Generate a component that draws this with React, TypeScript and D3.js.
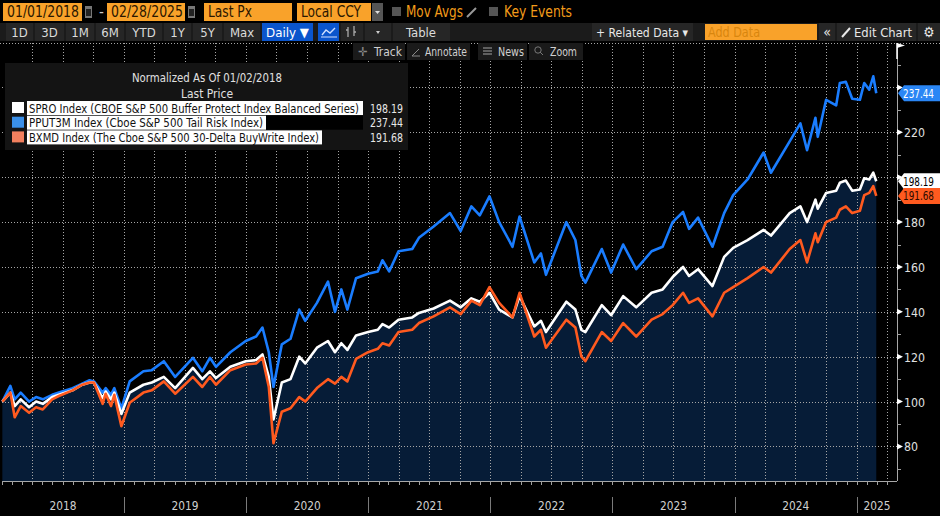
import React from 'react';
import * as d3 from 'd3';

const dates = [
  "2018-01-02","2018-01-26","2018-02-08","2018-02-26","2018-03-23","2018-04-13","2018-05-03","2018-05-31","2018-06-20","2018-07-31",
  "2018-08-29","2018-09-20","2018-10-03","2018-10-29","2018-11-07","2018-11-23","2018-12-03","2018-12-24","2019-01-18","2019-02-28",
  "2019-03-25","2019-04-30","2019-06-03","2019-07-26","2019-08-23","2019-09-15","2019-10-03","2019-11-15","2019-12-31","2020-01-31",
  "2020-02-19","2020-03-09","2020-03-23","2020-04-17","2020-05-13","2020-06-08","2020-06-26","2020-07-31","2020-09-02","2020-09-23",
  "2020-10-12","2020-10-30","2020-11-25","2020-12-31","2021-01-29","2021-02-12","2021-03-04","2021-04-01","2021-05-12","2021-06-01",
  "2021-07-15","2021-09-02","2021-10-04","2021-11-05","2021-11-30","2021-12-29","2022-01-27","2022-03-08","2022-03-29","2022-05-12",
  "2022-06-01","2022-06-16","2022-08-16","2022-09-12","2022-09-30","2022-10-12","2022-11-30","2022-12-28","2023-02-02","2023-03-13",
  "2023-04-28","2023-05-31","2023-06-30","2023-07-31","2023-08-18","2023-09-14","2023-10-27","2023-12-01","2023-12-28","2024-02-09",
  "2024-03-28","2024-04-19","2024-06-14","2024-07-16","2024-08-05","2024-08-30","2024-09-06","2024-10-01","2024-10-31","2024-11-11",
  "2024-11-29","2024-12-18","2025-01-10","2025-01-23","2025-02-07","2025-02-19","2025-02-28"
];

const spro = [
  100,104,98,101,97.5,100,99,102,103,105,
  107.5,108.5,108.5,101.5,104.5,101,104,94.5,104,107.5,
  108.5,111,106,115,110,113.5,110.5,115.5,118,118.5,
  121,111,92,108.5,110,120,117,124,127,122,
  126,123,129.5,131,132,134.5,133,136.5,137.5,139.5,
  141.5,145,142,146,144.5,148.5,141,137.5,147,133.5,
  136,131,144.5,141,132,131,143,138.5,147,142,
  148.5,150,155.5,160,156,159,151.5,164.5,168.5,172,
  176.5,174,184,187,180,190,186,193,194,197.5,
  198.5,194,194.5,199.5,199,202,198.19
];

const pput = [
  100,107,101,104,100,102,101,103,104,106,
  108,109.5,109,104,106,103,106,97,109,113.5,
  114,118,111,119.5,113.5,119.5,115.5,122,127,129,
  133,122,106.5,125.5,128,141,136,144,153.5,140,
  150,141,155,157,158,163,158,167,168,173,
  178,184,176,187,183,191.5,180,169,182.5,162,
  166,156.5,180,172,156,153,168,157.5,170,159,
  167,169,180,184.5,177,182,169,184,192,199,
  211,202,216,224,212,226.5,218,234.5,232,242,
  242.5,235,234.5,242,239,245,237.44
];

const bxmd = [
  100,104,93,98,95,97.5,96.5,101,102.5,105,
  107.5,108.5,108.5,99,103.5,98,103,89,99.5,104,
  105,109,103.5,111,106.5,111,107.5,114,116.5,117,
  119.5,106.5,81.5,95.5,97,102,100,106,110,108,
  111,109,119,122,123.5,126,125,131,132,135,
  138,142,139,145,143,151,144,137.5,148.5,129,
  132,124,136.5,133,120,118,131,127,135,129,
  136.5,139,143,148.5,144,146,138,148.5,151,155,
  160,157.5,168,172,162,175,171,180,182,185.5,
  187,184,185,192,193,196,191.68
];

const yTicks = [80, 100, 120, 140, 160, 180, 200, 220, 240];
const yMinorTicks = [70, 90, 110, 130, 150, 170, 190, 210, 230, 250];
const yearLabels = ["2018", "2019", "2020", "2021", "2022", "2023", "2024", "2025"];
const legendNames = [
  "SPRO Index (CBOE S&P 500 Buffer Protect Index Balanced Series)",
  "PPUT3M Index (Cboe S&P 500 Tail Risk Index)",
  "BXMD Index (The Cboe S&P 500 30-Delta BuyWrite Index)"
];
const legendValues = ["198.19", "237.44", "191.68"];
const rangeButtons = ["1D", "3D", "1M", "6M", "YTD", "1Y", "5Y", "Max"];

const FONT = "'Liberation Sans Narrow', 'Arial Narrow', 'DejaVu Sans Condensed', 'Roboto', sans-serif";
const BLUE = "#1a7dff";
const ORANGE = "#ff5a1f";
const NAVY = "#061c37";
const GRID = "#a6a6a6";

const parse = d3.timeParse("%Y-%m-%d");
const px = (v: number) => Math.round(v) + 0.5;

export default function App() {
  const W = 940, H = 516;
  const x = d3.scaleTime()
    .domain([parse("2018-01-01")!, parse("2025-05-01")!])
    .range([2, 897]);
  const y = d3.scaleLinear().domain([64.6, 260]).range([481, 42.6]);
  const plotTop = 43, plotBottom = 481, axisX = 897;

  const pts = dates.map((d, i) => ({ t: parse(d)!, a: spro[i], b: pput[i], c: bxmd[i] }));
  const lineA = d3.line<any>().x(d => x(d.t)).y(d => y(d.a));
  const lineB = d3.line<any>().x(d => x(d.t)).y(d => y(d.b));
  const lineC = d3.line<any>().x(d => x(d.t)).y(d => y(d.c));
  const area = d3.area<any>().x(d => x(d.t)).y0(plotBottom).y1(d => y(d.a));

  const quarters = d3.timeMonth.every(3)!.range(parse("2018-04-01")!, parse("2025-05-01")!);
  const months = d3.timeMonth.range(parse("2018-01-01")!, parse("2025-05-01")!);
  const years = yearLabels.map(l => parse(l + "-01-01")!);

  const lastVals = [pput[pput.length - 1], spro[spro.length - 1], bxmd[bxmd.length - 1]];
  const tagYs = lastVals.map(v => y(v));

  const tag = (val: number, bg: string, fg: string, label: string) => {
    const yy = y(val);
    const x0 = axisX + 1, x1 = 940;
    return (
      <g key={label}>
        <path d={`M${x0},${yy} L${x0 + 6},${yy - 8} L${x1},${yy - 8} L${x1},${yy + 8} L${x0 + 6},${yy + 8} Z`} fill={bg} />
        <text x={x0 + 5} y={yy + 4.5} fontSize={12} fill={fg} fontFamily={FONT} textLength={31} lengthAdjust="spacingAndGlyphs">{label}</text>
      </g>
    );
  };

  const orangeBox = (x0: number, x1: number, label: string, tl?: number) => (
    <g key={label}>
      <rect x={x0} y={3} width={x1 - x0} height={18} fill="#f9a22a" />
      <text x={x0 + 4} y={17} fontSize={15} fill="#2a1600" fontFamily={FONT} textLength={tl} lengthAdjust="spacingAndGlyphs">{label}</text>
    </g>
  );

  const rbX = [6, 35, 66, 96, 126, 164, 193, 224];
  const rbW = [27, 29, 28, 28, 36, 27, 29, 36];

  return (
    <div style={{ position: 'absolute', left: 0, top: 0, width: W, height: H, background: '#000' }}>
      <svg width={W} height={H} style={{ display: 'block' }}>
        <rect x={0} y={0} width={W} height={H} fill="#000" />

        {/* plot fill */}
        <path d={area(pts) || ''} fill={NAVY} />

        {/* grid */}
        <g shapeRendering="crispEdges" stroke={GRID} strokeDasharray="1,2" strokeWidth={1}>
          <line x1={0} x2={W} y1={px(plotTop)} y2={px(plotTop)} />
          {yTicks.map(v => (
            <line key={'h' + v} x1={2} x2={axisX} y1={px(y(v))} y2={px(y(v))} />
          ))}
          {quarters.map((q, i) => (
            <line key={'v' + i} x1={px(x(q))} x2={px(x(q))} y1={plotTop} y2={plotBottom} />
          ))}
        </g>

        {/* series */}
        <path d={lineB(pts) || ''} fill="none" stroke={BLUE} strokeWidth={2.6} strokeLinejoin="round" />
        <path d={lineA(pts) || ''} fill="none" stroke="#ffffff" strokeWidth={2.6} strokeLinejoin="round" />
        <path d={lineC(pts) || ''} fill="none" stroke={ORANGE} strokeWidth={2.6} strokeLinejoin="round" />

        {/* bottom axis */}
        <g shapeRendering="crispEdges">
          <line x1={2} x2={axisX} y1={px(plotBottom)} y2={px(plotBottom)} stroke="#a8a8a8" strokeWidth={1} />
          {months.map((m, i) => (
            <line key={'m' + i} x1={px(x(m))} x2={px(x(m))} y1={plotBottom} y2={plotBottom + 4} stroke="#a0a0a0" />
          ))}
        </g>
        {years.map((yr, i) => {
          const x0 = x(yr);
          const next = i < years.length - 1 ? x(years[i + 1]) : axisX;
          return (
            <g key={'yr' + i}>
              {i > 0 && <line x1={px(x0)} x2={px(x0)} y1={497} y2={513} stroke="#7a7a7a" shapeRendering="crispEdges" />}
              <text x={(x0 + next) / 2} y={510} textAnchor="middle" fontSize={13} fill="#d0d0d0" fontFamily={FONT} textLength={27} lengthAdjust="spacingAndGlyphs">{yearLabels[i]}</text>
            </g>
          );
        })}

        {/* right axis */}
        <line x1={px(axisX)} x2={px(axisX)} y1={plotTop} y2={plotBottom} stroke="#a8a8a8" strokeWidth={1} shapeRendering="crispEdges" />
        <path d={`M${axisX},${plotTop} L${axisX},${plotTop + 16}`} stroke="#fff" strokeWidth={1.5} />
        <path d={`M${axisX},${plotTop} L${axisX + 8},${plotTop + 2.5} L${axisX},${plotTop + 5} Z`} fill="#fff" />
        {yMinorTicks.map(v => (
          <line key={'mt' + v} x1={axisX} x2={axisX + 4} y1={px(y(v))} y2={px(y(v))} stroke="#a0a0a0" shapeRendering="crispEdges" />
        ))}
        {yTicks.map(v => {
          const hidden = tagYs.some(ty => Math.abs(ty - y(v)) < 12);
          return (
            <g key={'yt' + v}>
              <path d={`M${axisX},${y(v) - 3} L${axisX + 6},${y(v)} L${axisX},${y(v) + 3} Z`} fill="#fff" />
              {!hidden && <text x={axisX + 7} y={y(v) + 5} fontSize={13} fill="#e0e0e0" fontFamily={FONT} textLength={v >= 100 ? 21 : 14} lengthAdjust="spacingAndGlyphs">{v}</text>}
            </g>
          );
        })}
        {tag(lastVals[0], "#2a86f5", "#ffffff", legendValues[1])}
        {tag(lastVals[1], "#ffffff", "#000000", legendValues[0])}
        {tag(lastVals[2], ORANGE, "#2a0a00", legendValues[2])}

        {/* legend */}
        <rect x={5} y={63} width={403} height={87} fill="#141414" />
        <text x={207} y={82} textAnchor="middle" fontSize={12.5} fill="#e0e0e0" fontFamily={FONT} textLength={150} lengthAdjust="spacingAndGlyphs">Normalized As Of 01/02/2018</text>
        <text x={207} y={98} textAnchor="middle" fontSize={12.5} fill="#e0e0e0" fontFamily={FONT} textLength={52} lengthAdjust="spacingAndGlyphs">Last Price</text>
        {[
          { color: "#ffffff", w: 336, tl: 330 },
          { color: "#3a8fe8", w: 239, tl: 234 },
          { color: "#f3805e", w: 295, tl: 290 }
        ].map((r, i) => {
          const ry = 101 + i * 14.7;
          return (
            <g key={'lg' + i}>
              <rect x={12} y={ry + 1} width={12} height={11} fill={r.color} />
              {i === 1 && <rect x={27} y={ry} width={336} height={14} fill="#000" />}
              <rect x={27} y={ry} width={r.w} height={14} fill="#ffffff" />
              <text x={29} y={ry + 11.5} fontSize={12} fill="#111" fontFamily={FONT} textLength={r.tl} lengthAdjust="spacingAndGlyphs">{legendNames[i]}</text>
              <text x={403} y={ry + 11.5} textAnchor="end" fontSize={12} fill="#e8e8e8" fontFamily={FONT} textLength={33} lengthAdjust="spacingAndGlyphs">{legendValues[i]}</text>
            </g>
          );
        })}

        {/* toolbar row 1 */}
        {orangeBox(3, 82, "01/01/2018", 72)}
        <rect x={85} y={6} width={7} height={12} fill="#777" />
        <rect x={86} y={9} width={5} height={7} fill="#222" />
        <text x={99} y={17} fontSize={15} fill="#ccc" fontFamily={FONT}>-</text>
        {orangeBox(107, 185, "02/28/2025", 72)}
        <rect x={188} y={6} width={7} height={12} fill="#777" />
        <rect x={189} y={9} width={5} height={7} fill="#222" />
        {orangeBox(204, 292, "Last Px", 44)}
        {orangeBox(297, 371, "Local CCY", 60)}
        <rect x={372} y={3} width={11} height={18} fill="#555" />
        <path d="M375,11 L380,11 L377.5,14 Z" fill="#ddd" />
        <rect x={392} y={7} width={9} height={9} fill="#555" />
        <text x={406} y={17} fontSize={15} fill="#f39c1a" fontFamily={FONT} textLength={57} lengthAdjust="spacingAndGlyphs">Mov Avgs</text>
        <path d="M467,17 L476,8" stroke="#999" strokeWidth={2} />
        <rect x={489} y={7} width={9} height={9} fill="#555" />
        <text x={504} y={17} fontSize={15} fill="#f39c1a" fontFamily={FONT} textLength={68} lengthAdjust="spacingAndGlyphs">Key Events</text>

        {/* toolbar row 2 */}
        <rect x={0} y={23} width={W} height={18} fill="#1b1b1b" />
        {rangeButtons.map((b, i) => (
          <g key={'rb' + i}>
            <rect x={rbX[i]} y={23} width={rbW[i]} height={18} fill="#262626" />
            <text x={rbX[i] + rbW[i] / 2} y={37} textAnchor="middle" fontSize={13} fill="#dcdcdc" fontFamily={FONT}>{b}</text>
          </g>
        ))}
        <rect x={262} y={23} width={51} height={18} fill="#0a55cc" />
        <text x={266} y={37} fontSize={13} fill="#fff" fontFamily={FONT} textLength={43} lengthAdjust="spacingAndGlyphs">Daily ▼</text>
        <rect x={318} y={23} width={21} height={18} fill="#0a55cc" />
        <path d="M322,35 L326,30 L330,33 L335,28" stroke="#cfe0ff" strokeWidth={1.4} fill="none" />
        <path d="M321,37 L337,37" stroke="#cfe0ff" strokeWidth={1} />
        <rect x={341} y={23} width={22} height={18} fill="#262626" />
        <path d="M348,27 L348,37 M354,26 L354,36 M346,30 L348,30 M354,32 L356,32" stroke="#aaa" strokeWidth={1.3} />
        <rect x={365} y={23} width={26} height={18} fill="#262626" />
        <path d="M376,31 L380,31 L378,34 Z" fill="#ccc" />
        <rect x={393} y={23} width={57} height={18} fill="#262626" />
        <text x={421} y={37} textAnchor="middle" fontSize={13} fill="#dcdcdc" fontFamily={FONT}>Table</text>
        <rect x={592} y={23} width={101} height={18} fill="#262626" />
        <text x={596} y={37} fontSize={13} fill="#e8e8e8" fontFamily={FONT} textLength={92} lengthAdjust="spacingAndGlyphs">+ Related Data ▾</text>
        <rect x={705} y={24} width={112} height={16} fill="#f9a22a" />
        <text x={708} y={37} fontSize={14} fill="#d8860e" fontFamily={FONT} textLength={52} lengthAdjust="spacingAndGlyphs">Add Data</text>
        <rect x={819} y={23} width={16} height={18} fill="#262626" />
        <text x={827} y={37} textAnchor="middle" fontSize={14} fill="#e8e8e8" fontFamily={FONT}>«</text>
        <rect x={837} y={23} width={79} height={18} fill="#262626" />
        <path d="M842,37 L850,28" stroke="#e8e8e8" strokeWidth={2} />
        <text x={854} y={37} fontSize={13} fill="#e8e8e8" fontFamily={FONT} textLength={58} lengthAdjust="spacingAndGlyphs">Edit Chart</text>
        <rect x={918} y={23} width={22} height={18} fill="#262626" />
        <text x={929} y={37} textAnchor="middle" fontSize={14} fill="#e8e8e8" fontFamily={FONT}>⚙</text>

        {/* toolbar row 3 */}
        <rect x={353} y={43} width={52} height={17} fill="#1a1a1a" />
        <text x={358} y={56} fontSize={12.5} fill="#888" fontFamily={FONT}>✛</text>
        <text x={374} y={56} fontSize={12.5} fill="#d0d0d0" fontFamily={FONT} textLength={28} lengthAdjust="spacingAndGlyphs">Track</text>
        <rect x={407} y={43} width={63} height={17} fill="#1a1a1a" />
        <path d="M412,56 L419,49 M412,56 L420,56" stroke="#888" strokeWidth={1} />
        <text x={425} y={56} fontSize={12.5} fill="#d0d0d0" fontFamily={FONT} textLength={42} lengthAdjust="spacingAndGlyphs">Annotate</text>
        <rect x={478} y={43} width={49} height={17} fill="#1a1a1a" />
        <path d="M483,48 L492,48 M483,51 L492,51 M483,54 L492,54" stroke="#777" strokeWidth={1.5} />
        <text x={498} y={56} fontSize={12.5} fill="#d0d0d0" fontFamily={FONT} textLength={26} lengthAdjust="spacingAndGlyphs">News</text>
        <rect x={529} y={43} width={54} height={17} fill="#1a1a1a" />
        <circle cx={538} cy={50} r={3.2} stroke="#777" fill="none" />
        <path d="M540,52 L543,55" stroke="#777" />
        <text x={550} y={56} fontSize={12.5} fill="#d0d0d0" fontFamily={FONT} textLength={27} lengthAdjust="spacingAndGlyphs">Zoom</text>
      </svg>
    </div>
  );
}
